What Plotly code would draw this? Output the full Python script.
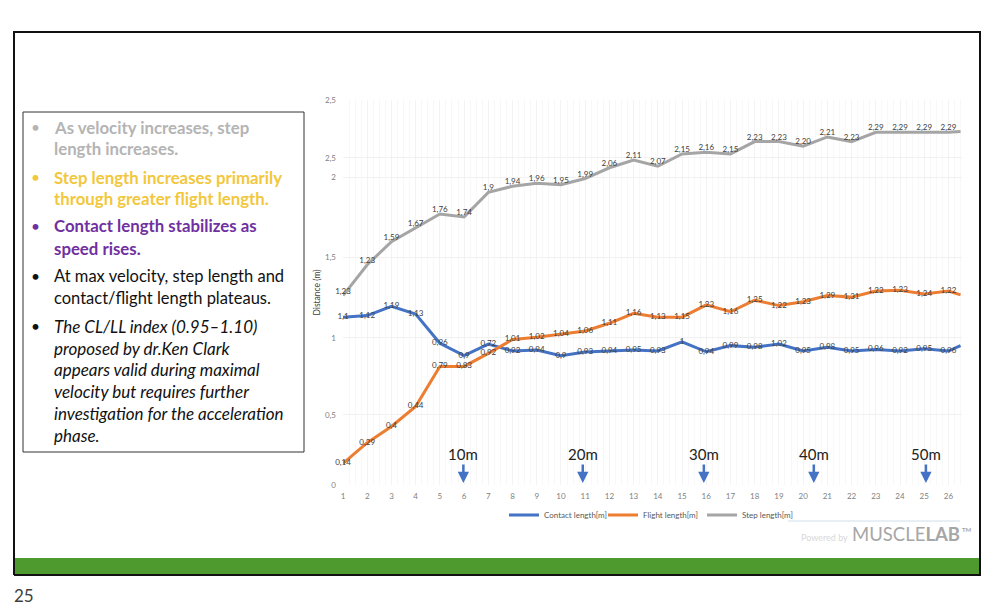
import plotly.graph_objects as go

W, H = 1001, 606

# stride number, the last one is the unlabelled tail of the lines
strides = list(range(1, 27)) + [26.5]
tick_vals = list(range(1, 27))

contact = [1.09, 1.10, 1.16, 1.11, 0.92, 0.84, 0.915, 0.87, 0.877, 0.84, 0.864, 0.87, 0.877,
           0.87, 0.93, 0.865, 0.905, 0.895, 0.915, 0.87, 0.895, 0.87, 0.88, 0.87, 0.885, 0.87, 0.905]
flight = [0.14, 0.275, 0.38, 0.51, 0.77, 0.77, 0.855, 0.945, 0.96, 0.98, 1.00, 1.05, 1.115,
          1.09, 1.09, 1.17, 1.125, 1.20, 1.165, 1.19, 1.23, 1.22, 1.26, 1.265, 1.24, 1.26, 1.235]
step = [1.23, 1.43, 1.58, 1.67, 1.76, 1.74, 1.90, 1.94, 1.96, 1.95, 1.99, 2.06, 2.11,
        2.07, 2.15, 2.16, 2.15, 2.23, 2.23, 2.20, 2.26, 2.23, 2.29, 2.29, 2.29, 2.29, 2.295]

contact_labels = ["1,1", "1,12", "1,19", "1,13", "0,96", "0,9", "0,72", "0,92", "0,94", "0,9", "0,93",
                  "0,94", "0,95", "0,93", "1", "0,94", "0,99", "0,98", "1,02", "0,95", "0,98", "0,95",
                  "0,96", "0,92", "0,95", "0,96", ""]
flight_labels = ["0,14", "0,29", "0,4", "0,44", "0,79", "0,83", "0,92", "1,01", "1,02", "1,04", "1,06",
                 "1,11", "1,16", "1,13", "1,15", "1,23", "1,16", "1,25", "1,22", "1,23", "1,29", "1,31",
                 "1,22", "1,23", "1,24", "1,22", ""]
step_labels = ["1,23", "1,23", "1,59", "1,67", "1,76", "1,74", "1,9", "1,94", "1,96", "1,95", "1,99",
               "2,06", "2,11", "2,07", "2,15", "2,16", "2,15", "2,23", "2,23", "2,20", "2,21", "2,23",
               "2,29", "2,29", "2,29", "2,29", ""]

y_tick_vals = [0, 0.455, 0.955, 1.48, 2.0, 2.125, 2.5]
y_tick_text = ["0", "0,5", "1", "1,5", "2", "2,5", "2,5"]

marker_x = [5.97, 10.9, 15.9, 20.44, 25.07]
marker_text = ["10m", "20m", "30m", "40m", "50m"]

# (text, colour, bold, italic, bullet?, y in px)
bullet_lines = [
    ("As velocity increases, step", "#b4b4b4", True, False, True, 127),
    ("length increases.", "#b4b4b4", True, False, False, 148),
    ("Step length increases primarily", "#f2c73c", True, False, True, 177),
    ("through greater flight length.", "#f2c73c", True, False, False, 198),
    ("Contact length stabilizes as", "#7030a0", True, False, True, 226),
    ("speed rises.", "#7030a0", True, False, False, 249),
    ("At max velocity, step length and", "#111111", False, False, True, 276),
    ("contact/flight length plateaus.", "#111111", False, False, False, 298),
    ("The CL/LL index (0.95–1.10)", "#111111", False, True, True, 326),
    ("proposed by dr.Ken Clark", "#111111", False, True, False, 348),
    ("appears valid during maximal", "#111111", False, True, False, 370),
    ("velocity but requires further", "#111111", False, True, False, 392),
    ("investigation for the acceleration", "#111111", False, True, False, 413),
    ("phase.", "#111111", False, True, False, 435),
]

BLUE = "#4472c4"
ORANGE = "#ed7d31"
GRAY = "#a5a5a5"
FONT = "Lato"


def px(x):
    return x / W


def py(y):
    return 1 - y / H


def rect(x0, y0, x1, y1, **kw):
    return dict(type="rect", xref="paper", yref="paper", layer="below",
                x0=px(x0), y0=py(y0), x1=px(x1), y1=py(y1), **kw)


def note(x, y, text, size, color, xanchor="left", **kw):
    return dict(xref="paper", yref="paper", x=px(x), y=py(y), text=text, showarrow=False,
                xanchor=xanchor, yanchor="middle", xshift=-1, font=dict(family=FONT, size=size, color=color), **kw)


fig = go.Figure()

for name, vals, color, width in [("Contact length[m]", contact, BLUE, 3),
                                 ("Flight length[m]", flight, ORANGE, 3),
                                 ("Step length[m]", step, GRAY, 3)]:
    fig.add_trace(go.Scatter(x=strides, y=vals, name=name, mode="lines",
                             line=dict(color=color, width=width)))

for vals, labels, pos in [(contact, contact_labels, "middle center"),
                          (flight, flight_labels, "middle center"),
                          (step, step_labels, "top center")]:
    fig.add_trace(go.Scatter(x=strides, y=vals, mode="text", text=labels, textposition=pos,
                             textfont=dict(family=FONT, size=8, color="#404040"), cliponaxis=False,
                             showlegend=False, hoverinfo="skip"))

shapes = [
    rect(14, 32, 980, 574, line=dict(color="#111111", width=2), fillcolor="white"),
    rect(15, 558, 979, 574, line=dict(width=0), fillcolor="#4f9a2e"),
    rect(14, 574, 981, 576, line=dict(width=0), fillcolor="#111111"),
    rect(23, 112, 304, 452, line=dict(color="#333333", width=1), fillcolor="white"),
    dict(type="line", xref="paper", yref="paper", x0=px(788), x1=px(960), y0=py(521), y1=py(521),
         line=dict(color="#cfe0ec", width=1)),
]

annotations = []
for text, color, bold, italic, bullet, y in bullet_lines:
    s = text
    size = 16.5
    if bold:
        s = f"<b>{s}</b>"
        size = 16.8
    if italic:
        s = f"<i>{s}</i>"
        size = 17
    annotations.append(note(53, y, s, size, color))
    if bullet:
        annotations.append(note(30, y, "•", 15.5, color))

for mx, label in zip(marker_x, marker_text):
    annotations.append(dict(x=mx, y=0.013, xref="x", yref="y", text=label, showarrow=True,
                            ax=0, ay=-29, arrowcolor=BLUE, arrowwidth=2.5, arrowhead=2, arrowsize=0.9,
                            font=dict(family=FONT, size=15, color="#222222")))

annotations.append(note(13, 595, "25", 17, "#404040"))
annotations.append(note(800, 537, "Powered by", 9, "#d8d8d8"))
annotations.append(note(851, 534, "MUSCLE<b>LAB</b>", 18.5, "#a6a6a6"))
annotations.append(note(961, 529, "<b>TM</b>", 6, "#a6a6a6"))

fig.update_layout(
    width=W, height=H,
    margin=dict(l=0, r=0, t=0, b=0, autoexpand=False),
    paper_bgcolor="white",
    plot_bgcolor="#fbfbfb",
    font=dict(family=FONT, color="#7f7f7f", size=8),
    shapes=shapes,
    annotations=annotations,
    legend=dict(orientation="h", x=px(504), y=py(515), xanchor="left", yanchor="middle",
                bgcolor="rgba(0,0,0,0)", font=dict(size=8, color="#595959"), itemwidth=30,
                entrywidth=54, entrywidthmode="pixels"),
)
fig.update_xaxes(domain=[px(343), px(962)], range=[1, 26.56], tickvals=tick_vals,
                 ticks="", showline=False, zeroline=False, gridcolor="#f3f3f3", gridwidth=1,
                 tickfont=dict(size=8, color="#7f7f7f"), ticklabelstandoff=5,
                 minor=dict(dtick=0.25, showgrid=True, gridcolor="#f8f8f8"))
fig.update_yaxes(domain=[py(485), py(100)], range=[0, 2.5], tickvals=y_tick_vals, ticktext=y_tick_text,
                 ticks="", showline=False, zeroline=False, gridcolor="#f1f1f1", gridwidth=1,
                 tickfont=dict(size=8, color="#7f7f7f"), ticklabelstandoff=6,
                 title=dict(text="Distance (m)", font=dict(size=8.5, color="#404040"), standoff=2))

fig.write_html("out.html", config=dict(displayModeBar=False),
               post_script="document.body.style.margin='0';document.body.style.overflow='hidden';")
